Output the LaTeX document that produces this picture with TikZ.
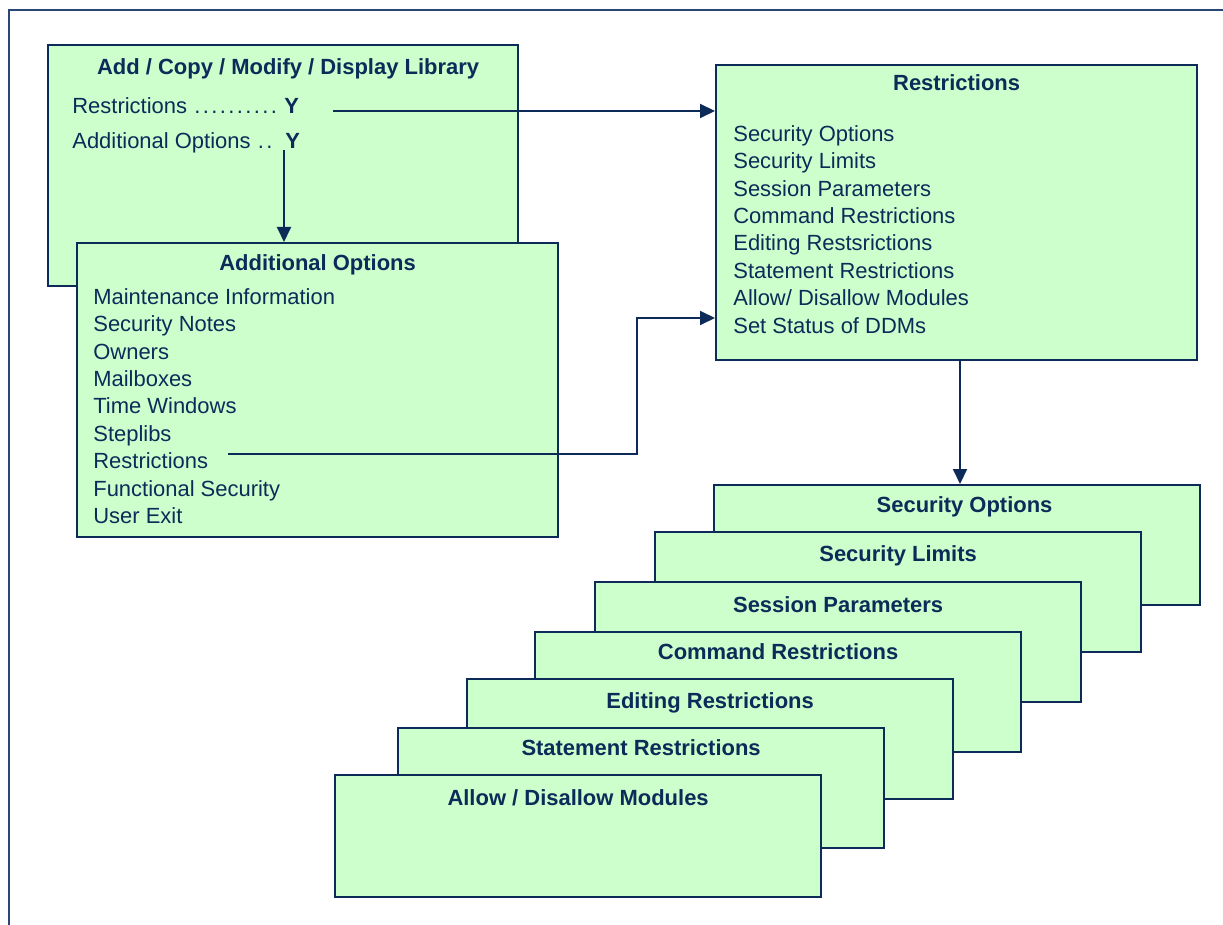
\documentclass[tikz,border=0pt]{standalone}
\usepackage{fontspec}
\setmainfont{Liberation Sans}
\usetikzlibrary{positioning, arrows.meta}
\definecolor{secnavy}{rgb}{0.05, 0.17, 0.35}
\definecolor{secgreen}{rgb}{0.8, 1.0, 0.8}
\definecolor{secframe}{rgb}{0.16, 0.28, 0.46}

\begin{document}
\begin{tikzpicture}[x=0.02cm, y=-0.02cm,
    box/.style={draw=secnavy, fill=secgreen, line width=1.3pt, anchor=north west, inner sep=0},
    card/.style={box, minimum width=9.72cm, minimum height=2.4cm},
    head/.style={font=\fontsize{12.5}{15}\selectfont\bfseries, text=secnavy, inner sep=0},
    entry/.style={font=\fontsize{12.5}{15.6}\selectfont, text=secnavy, align=left, inner sep=0, anchor=north west},
    conn/.style={draw=secnavy, line width=1.1pt, -{Triangle[length=0.3cm, width=0.28cm]}}]
    \useasboundingbox (0,0) rectangle (1223,925);
    \draw[secframe, line width=1.3pt] (9,925) -- (9,10) -- (1223,10);
    % library screen
    \node[box, minimum width=9.4cm, minimum height=4.82cm] (lib) at (47,44) {};
    \node[head, below=0.28cm of lib.north, xshift=0.1cm] {Add / Copy / Modify / Display Library};
    \node[entry] (libRestr) at (72,97) {Restrictions \hbox to 1.7cm{\leaders\hbox to 0.17cm{\hss.\hss}\hfill} \textbf{Y}};
    \node[entry] (libAddOpt) at (72,132) {Additional Options \hbox to 0.5cm{\leaders\hbox to 0.17cm{\hss.\hss}\hfill}\,\textbf{Y}};
    % additional options
    \node[box, minimum width=9.62cm, minimum height=5.88cm] (addopt) at (76,242) {};
    \node[head, below=0.24cm of addopt.north] {Additional Options};
    \node[entry] (addoptList) at (93,288) {Maintenance Information\\Security Notes\\Owners\\Mailboxes\\Time Windows\\Steplibs\\Restrictions\\Functional Security\\User Exit};
    % restrictions
    \node[box, minimum width=9.62cm, minimum height=5.9cm] (restr) at (715,64) {};
    \node[head, below=0.2cm of restr.north] {Restrictions};
    \node[entry] (restrList) at (733,125) {Security Options\\Security Limits\\Session Parameters\\Command Restrictions\\Editing Restsrictions\\Statement Restrictions\\Allow/ Disallow Modules\\Set Status of DDMs};
    % stack of restriction screens
    \node[card] (secopt) at (713,484) {};
    \node[head, below=0.24cm of secopt.north, xshift=0.15cm] {Security Options};
    \node[card] (seclim) at (654,531) {};
    \node[head, below=0.28cm of seclim.north] {Security Limits};
    \node[card] (sesspar) at (594,581) {};
    \node[head, below=0.3cm of sesspar.north] {Session Parameters};
    \node[card] (cmdres) at (534,631) {};
    \node[head, below=0.24cm of cmdres.north] {Command Restrictions};
    \node[card] (editres) at (466,678) {};
    \node[head, below=0.28cm of editres.north] {Editing Restrictions};
    \node[card] (stmtres) at (397,727) {};
    \node[head, below=0.24cm of stmtres.north] {Statement Restrictions};
    \node[card, minimum height=2.44cm] (allowmod) at (334,774) {};
    \node[head, below=0.3cm of allowmod.north] {Allow / Disallow Modules};
    % connectors
    \coordinate (rsOut) at (333,111);
    \coordinate (aoOut) at (284,150);
    \coordinate (rbOut) at (228,454);
    \coordinate (rbBend) at (637,318);
    \coordinate (rsDown) at (960,359);
    \draw[conn] (rsOut) -- (rsOut -| restr.west);
    \draw[conn] (aoOut) -- (aoOut |- addopt.north);
    \draw[conn] (rbOut) -| (rbBend) -- (rbBend -| restr.west);
    \draw[conn] (rsDown) -- (rsDown |- secopt.north);
\end{tikzpicture}
\end{document}
